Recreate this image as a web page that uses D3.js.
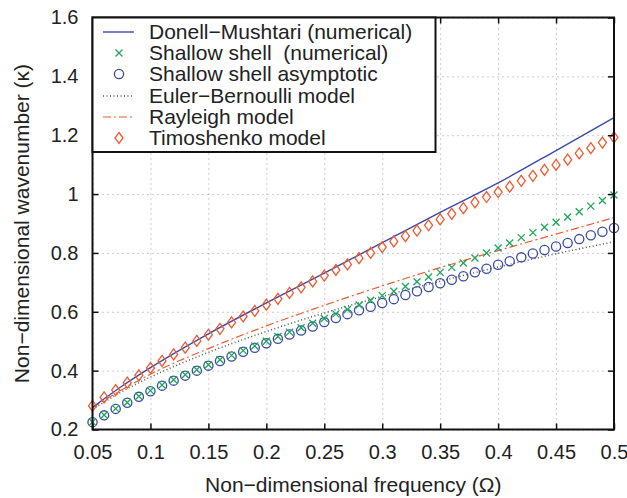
<!DOCTYPE html>
<html>
<head>
<meta charset="utf-8">
<script src="https://cdn.jsdelivr.net/npm/d3@7"></script>
<style>
body { margin: 0; background: #fff; }
text { font-family: "Liberation Sans", Arial, sans-serif; fill: #222; }
</style>
</head>
<body>
<div id="viz"></div>
<script>
// marker series, one value per frequency
const freq = [0.05, 0.06, 0.07, 0.08, 0.09, 0.10, 0.11, 0.12, 0.13, 0.14,
	0.15, 0.16, 0.17, 0.18, 0.19, 0.20, 0.21, 0.22, 0.23, 0.24,
	0.25, 0.26, 0.27, 0.28, 0.29, 0.30, 0.31, 0.32, 0.33, 0.34,
	0.35, 0.36, 0.37, 0.38, 0.39, 0.40, 0.41, 0.42, 0.43, 0.44,
	0.45, 0.46, 0.47, 0.48, 0.49, 0.50];
const shallowNum = [0.225, 0.249, 0.271, 0.292, 0.313, 0.332, 0.351, 0.369, 0.386, 0.403,
	0.420, 0.437, 0.452, 0.468, 0.484, 0.500, 0.516, 0.531, 0.546, 0.561,
	0.577, 0.593, 0.608, 0.623, 0.639, 0.655, 0.670, 0.686, 0.702, 0.718,
	0.734, 0.751, 0.766, 0.783, 0.800, 0.817, 0.834, 0.852, 0.869, 0.887,
	0.904, 0.922, 0.940, 0.959, 0.978, 0.997];
const shallowAsym = [0.225, 0.248, 0.270, 0.291, 0.311, 0.330, 0.349, 0.366, 0.383, 0.400,
	0.417, 0.433, 0.448, 0.464, 0.478, 0.493, 0.508, 0.523, 0.536, 0.550,
	0.565, 0.579, 0.592, 0.605, 0.617, 0.630, 0.643, 0.657, 0.670, 0.684,
	0.697, 0.709, 0.721, 0.734, 0.746, 0.760, 0.772, 0.785, 0.798, 0.810,
	0.822, 0.834, 0.847, 0.860, 0.872, 0.885];
const timoshenko = [0.280, 0.309, 0.334, 0.359, 0.384, 0.409, 0.433, 0.455, 0.478, 0.501,
	0.522, 0.542, 0.564, 0.584, 0.603, 0.624, 0.644, 0.664, 0.683, 0.703,
	0.723, 0.742, 0.761, 0.782, 0.800, 0.820, 0.839, 0.857, 0.876, 0.894,
	0.914, 0.933, 0.952, 0.972, 0.990, 1.007, 1.025, 1.045, 1.062, 1.082,
	1.099, 1.117, 1.138, 1.156, 1.175, 1.193];

// line series
const lineFreq = [0.05, 0.075, 0.10, 0.15, 0.20, 0.25, 0.30, 0.35, 0.40, 0.45, 0.50];
const donell = [0.275, 0.346, 0.410, 0.525, 0.630, 0.731, 0.835, 0.938, 1.038, 1.148, 1.260];
const euler = [0.268, 0.328, 0.378, 0.462, 0.533, 0.596, 0.652, 0.704, 0.752, 0.797, 0.838];
const rayleigh = [0.275, 0.334, 0.388, 0.475, 0.552, 0.622, 0.688, 0.750, 0.808, 0.864, 0.920];

const xTicks = [0.05, 0.1, 0.15, 0.2, 0.25, 0.3, 0.35, 0.4, 0.45, 0.5];
const xTickLabels = ["0.05", "0.1", "0.15", "0.2", "0.25", "0.3", "0.35", "0.4", "0.45", "0.5"];
const yTicks = [0.2, 0.4, 0.6, 0.8, 1.0, 1.2, 1.4, 1.6];
const yTickLabels = ["0.2", "0.4", "0.6", "0.8", "1", "1.2", "1.4", "1.6"];
const legendLabels = ["Donell\u2212Mushtari (numerical)", "Shallow shell  (numerical)",
	"Shallow shell asymptotic", "Euler\u2212Bernoulli model", "Rayleigh model", "Timoshenko model"];

function draw() {
	let sizeX = 627, sizeY = 498;
	let left = 92.5, right = 614, top = 17.5, bottom = 429.5;

	let blue = "#3b4aa8", green = "#1fa65a", red = "#f05a32", gray = "#555";

	let svg = d3.select("#viz").append("svg")
		.attr("width", sizeX).attr("height", sizeY);

	let x = d3.scaleLinear().domain([0.05, 0.5]).range([left, right]);
	let y = d3.scaleLinear().domain([0.2, 1.6]).range([bottom, top]);

	// dotted grid
	svg.append("g")
		.attr("transform", "translate(0," + bottom + ")")
		.call(d3.axisBottom(x).tickValues(xTicks).tickSize(-(bottom - top)).tickFormat(""))
		.call(g => g.select(".domain").remove())
		.selectAll("line").attr("stroke", "#999").attr("stroke-dasharray", "1,4");
	svg.append("g")
		.attr("transform", "translate(" + left + ",0)")
		.call(d3.axisLeft(y).tickValues(yTicks).tickSize(-(right - left)).tickFormat(""))
		.call(g => g.select(".domain").remove())
		.selectAll("line").attr("stroke", "#999").attr("stroke-dasharray", "1,4");

	// lines
	let pts = s => lineFreq.map((f, i) => [f, s[i]]);
	let line = d3.line().x(d => x(d[0])).y(d => y(d[1])).curve(d3.curveMonotoneX);

	svg.append("path").datum(pts(euler))
		.attr("d", line).attr("fill", "none")
		.attr("stroke", gray).attr("stroke-width", 1.5)
		.attr("stroke-dasharray", "1,2.5");
	svg.append("path").datum(pts(rayleigh))
		.attr("d", line).attr("fill", "none")
		.attr("stroke", red).attr("stroke-width", 1.2)
		.attr("stroke-dasharray", "8,3,2,3");
	svg.append("path").datum(pts(donell))
		.attr("d", line).attr("fill", "none")
		.attr("stroke", blue).attr("stroke-width", 1.4);

	// markers
	let diamond = (cx, cy) => "M" + cx + "," + (cy - 5.5) + "L" + (cx + 4) + "," + cy +
		"L" + cx + "," + (cy + 5.5) + "L" + (cx - 4) + "," + cy + "Z";
	let cross = (cx, cy) => "M" + (cx - 3.5) + "," + (cy - 3.5) + "L" + (cx + 3.5) + "," + (cy + 3.5) +
		"M" + (cx - 3.5) + "," + (cy + 3.5) + "L" + (cx + 3.5) + "," + (cy - 3.5);

	svg.append("g").selectAll("circle").data(shallowAsym).join("circle")
		.attr("cx", (d, i) => x(freq[i])).attr("cy", d => y(d))
		.attr("r", 4.6).attr("fill", "none")
		.attr("stroke", blue).attr("stroke-width", 1.3);
	svg.append("g").selectAll("path").data(shallowNum).join("path")
		.attr("d", (d, i) => cross(x(freq[i]), y(d)))
		.attr("stroke", green).attr("stroke-width", 1.3);
	svg.append("g").selectAll("path").data(timoshenko).join("path")
		.attr("d", (d, i) => diamond(x(freq[i]), y(d)))
		.attr("fill", "none").attr("stroke", red).attr("stroke-width", 1.3);

	// axes with inward ticks
	let xAx = svg.append("g")
		.attr("transform", "translate(0," + bottom + ")")
		.call(d3.axisBottom(x).tickValues(xTicks).tickFormat((d, i) => xTickLabels[i])
			.tickSizeInner(-6).tickSizeOuter(0).tickPadding(15));
	let yAx = svg.append("g")
		.attr("transform", "translate(" + left + ",0)")
		.call(d3.axisLeft(y).tickValues(yTicks).tickFormat((d, i) => yTickLabels[i])
			.tickSizeInner(-6).tickSizeOuter(0).tickPadding(14));
	svg.append("g")
		.attr("transform", "translate(0," + top + ")")
		.call(d3.axisTop(x).tickValues(xTicks).tickFormat("").tickSizeInner(-6).tickSizeOuter(0));
	svg.append("g")
		.attr("transform", "translate(" + right + ",0)")
		.call(d3.axisRight(y).tickValues(yTicks).tickFormat("").tickSizeInner(-6).tickSizeOuter(0));
	svg.selectAll(".domain").remove();
	svg.selectAll(".tick line").filter(function () { return this.getAttribute("stroke-dasharray") == null; })
		.attr("stroke", "#111").attr("stroke-width", 1.5);
	svg.selectAll(".tick text").style("font-size", "20px").attr("fill", "#222");

	svg.append("rect")
		.attr("x", left).attr("y", top)
		.attr("width", right - left).attr("height", bottom - top)
		.attr("fill", "none").attr("stroke", "#111").attr("stroke-width", 2);

	// axis titles
	svg.append("text").text("Non\u2212dimensional frequency (\u03A9)")
		.attr("x", (left + right) / 2).attr("y", 492)
		.attr("text-anchor", "middle").style("font-size", "21px");
	svg.append("text").text("Non\u2212dimensional wavenumber (\u03BA)")
		.attr("transform", "translate(29," + (top + bottom) / 2 + ") rotate(-90)")
		.attr("text-anchor", "middle").style("font-size", "21px");

	// legend
	let lg = svg.append("g");
	lg.append("rect")
		.attr("x", left).attr("y", top)
		.attr("width", 343).attr("height", 134.5)
		.attr("fill", "#fff").attr("stroke", "#111").attr("stroke-width", 2);
	let rowY = [32, 53, 74, 96, 117, 138];
	legendLabels.forEach((t, i) => {
		lg.append("text").text(t)
			.attr("x", 149).attr("y", rowY[i])
			.attr("dy", "0.35em")
			.style("font-size", "21px")
			.style("white-space", "pre");
	});
	lg.append("line").attr("x1", 103).attr("x2", 134).attr("y1", rowY[0]).attr("y2", rowY[0])
		.attr("stroke", blue).attr("stroke-width", 1.4);
	lg.append("path").attr("d", cross(119, rowY[1]))
		.attr("stroke", green).attr("stroke-width", 1.3);
	lg.append("circle").attr("cx", 119).attr("cy", rowY[2]).attr("r", 4.6)
		.attr("fill", "none").attr("stroke", blue).attr("stroke-width", 1.3);
	lg.append("line").attr("x1", 103).attr("x2", 134).attr("y1", rowY[3]).attr("y2", rowY[3])
		.attr("stroke", gray).attr("stroke-width", 1.5).attr("stroke-dasharray", "1,2.5");
	lg.append("line").attr("x1", 103).attr("x2", 134).attr("y1", rowY[4]).attr("y2", rowY[4])
		.attr("stroke", red).attr("stroke-width", 1.2).attr("stroke-dasharray", "8,3,2,3");
	lg.append("path").attr("d", diamond(119, rowY[5]))
		.attr("fill", "none").attr("stroke", red).attr("stroke-width", 1.3);
}
draw();
</script>
</body>
</html>
